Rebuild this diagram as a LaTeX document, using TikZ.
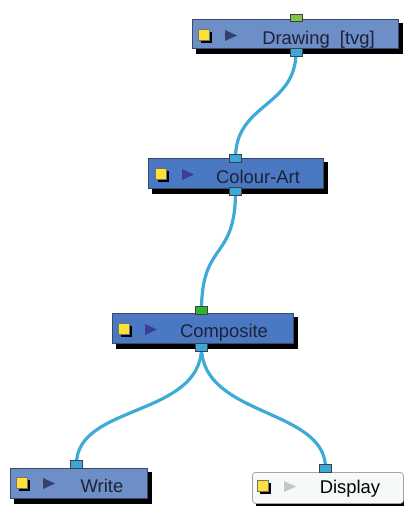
\documentclass[tikz,border=0pt]{standalone}
\usepackage{fontspec}
\setmainfont{Liberation Sans}
\usetikzlibrary{backgrounds}
\definecolor{nodeA}{HTML}{6D8EC6}
\definecolor{nodeB}{HTML}{4B78C2}
\definecolor{dispfill}{HTML}{F6FAF6}
\definecolor{wirec}{HTML}{3DAAD8}
\definecolor{portblue}{HTML}{3AA8DC}
\definecolor{portgreen}{HTML}{2DB52D}
\definecolor{portlime}{HTML}{84C443}
\definecolor{edgec}{HTML}{3A4A66}
\definecolor{tridark}{HTML}{34406E}
\definecolor{triblue}{HTML}{3A3F95}
\definecolor{trigrey}{HTML}{C4C8CC}
\definecolor{yel}{HTML}{FFE03A}
\definecolor{txt}{HTML}{1C2238}
\tikzset{
  box/.style={draw=edgec, line width=0.8pt, inner sep=0pt, anchor=north west},
  shadowfill/.style={fill=black},
  port/.style={draw=black!75, line width=0.6pt, minimum width=12pt, minimum height=8pt, inner sep=0pt},
  lbl/.style={font=\fontsize{18.4}{20}\selectfont, text=txt, anchor=base, inner sep=0pt},
  wire/.style={draw=wirec, line width=3.2pt},
  icons/.pic={
    \fill[black] (9,13) rectangle (20,24);
    \filldraw[fill=yel, draw=black!55, line width=0.4pt] (6,10) rectangle (17,21);
    \fill[#1] (33,11) -- (45,16.5) -- (33,22) -- cycle;
  }
}
\begin{document}
\begin{tikzpicture}[x=1pt,y=-1pt]
\useasboundingbox (0,0) rectangle (404,506);
% boxes
\node[box, fill=nodeA, minimum width=206pt, minimum height=29pt] (drawing) at (192,19) {};
\node[box, fill=nodeB, minimum width=175pt, minimum height=30pt] (colourart) at (148,158) {};
\node[box, fill=nodeB, minimum width=181pt, minimum height=30pt] (composite) at (112,313) {};
\node[box, fill=nodeA, minimum width=137pt, minimum height=30pt] (write) at (10,468) {};
\node[box, fill=dispfill, draw=black!35, rounded corners=3pt, minimum width=151pt, minimum height=31pt] (display) at (252,472) {};
% icons
\pic at (192,19) {icons=tridark};
\pic at (149,158) {icons=triblue};
\pic at (112,313) {icons=triblue};
\pic at (10,467) {icons=tridark};
\pic at (251,470) {icons=trigrey};
% labels
\node[lbl] (tdrawing) at (318.5,44) {Drawing\ \ [tvg]};
\node[lbl] (tcolour) at (258,183) {Colour-Art};
\node[lbl] (tcomposite) at (224,337) {Composite};
\node[lbl] (twrite) at (102,492) {Write};
\node[lbl, text=black] (tdisplay) at (350,493) {Display};
% ports
\node[port, fill=portlime, minimum height=7pt] (drawingin) at (296,17.5) {};
\node[port, fill=portblue] (drawingout) at (296,52) {};
\node[port, fill=portblue] (colourin) at (235.5,158) {};
\node[port, fill=portblue] (colourout) at (235.5,191.5) {};
\node[port, fill=portgreen] (compin) at (201.5,310.5) {};
\node[port, fill=portblue] (compout) at (201.5,347) {};
\node[port, fill=portblue] (writein) at (76.5,464) {};
\node[port, fill=portblue] (displayin) at (325.5,468) {};
% shadows and wires
\begin{scope}[on background layer]
\foreach \b in {drawing,colourart,composite,write,display}
  \fill[shadowfill] ([shift={(4,4)}]\b.north west) rectangle ([shift={(4,5)}]\b.south east);
\draw[wire] (drawingout.center) .. controls +(0,55) and +(0,-55) .. (colourin.center);
\draw[wire] (colourout.center) .. controls +(0,70) and +(0,-70) .. (compin.center);
\draw[wire] (compout.center) .. controls +(0,70) and +(0,-60) .. (writein.center);
\draw[wire] (compout.center) .. controls +(0,70) and +(0,-60) .. (displayin.center);
\end{scope}
\end{tikzpicture}
\end{document}
